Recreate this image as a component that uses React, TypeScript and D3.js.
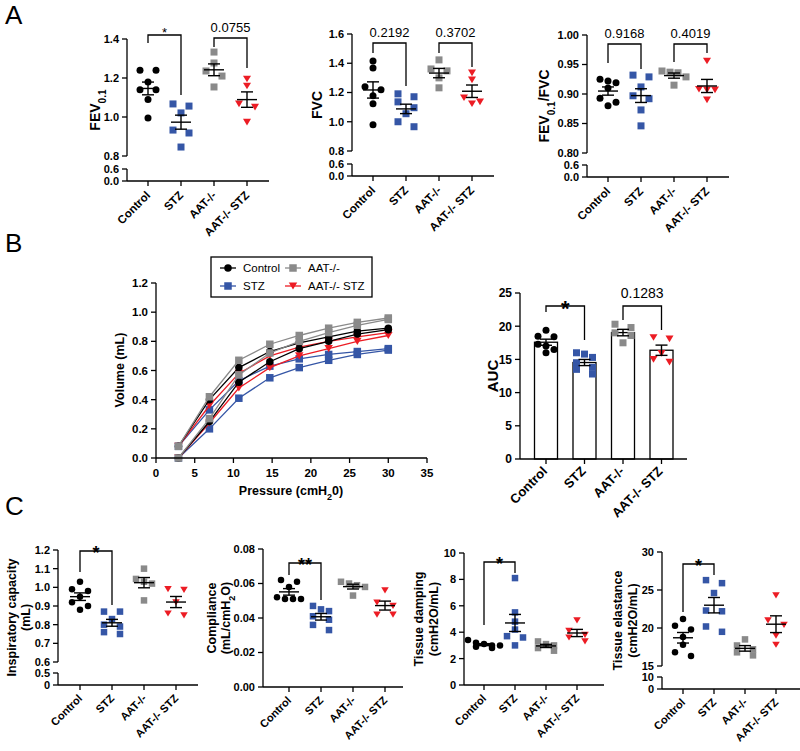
import React from "react";
import * as d3 from "d3";

const FONT = "Arial, 'Liberation Sans', Helvetica, sans-serif";

// ---------- categories & styles ----------
const groups = ["Control", "STZ", "AAT-/-", "AAT-/- STZ"];
const groupColors = ["#000000", "#3556a6", "#8a8a8a", "#ec1c24"];
const groupShapes = ["circle", "square", "square", "triangle"];

// ---------- Panel A ----------
const fevControl = [1.24, 1.24, 1.18, 1.14, 1.14, 1.09, 0.995];
const fevStz = [1.067, 1.056, 1.021, 0.933, 0.918, 0.846];
const fevAat = [1.333, 1.277, 1.236, 1.21, 1.154];
const fevAatStz = [1.195, 1.159, 1.067, 1.051, 0.974];

const fvcControl = [1.416, 1.368, 1.239, 1.218, 1.177, 1.123, 0.98];
const fvcStz = [1.191, 1.171, 1.136, 1.096, 1.055, 1.0, 0.966];
const fvcAat = [1.423, 1.361, 1.348, 1.3, 1.232];
const fvcAatStz = [1.334, 1.286, 1.164, 1.136, 1.123];

const ratioControl = [0.925, 0.922, 0.919, 0.91, 0.893, 0.886, 0.88];
const ratioStz = [0.932, 0.929, 0.912, 0.897, 0.892, 0.873, 0.846];
const ratioAat = [0.939, 0.937, 0.936, 0.929, 0.915];
const ratioAatStz = [0.956, 0.908, 0.907, 0.907, 0.89];

// ---------- Panel B ----------
const pressure = [2.9, 6.9, 10.7, 14.7, 18.5, 22.3, 26.0, 30.0];
const pvControlUp = [0.08, 0.4, 0.62, 0.73, 0.79, 0.83, 0.87, 0.89];
const pvControlLo = [0.0, 0.25, 0.52, 0.66, 0.75, 0.8, 0.85, 0.88];
const pvStzUp = [0.08, 0.33, 0.53, 0.63, 0.68, 0.71, 0.73, 0.75];
const pvStzLo = [0.0, 0.2, 0.41, 0.55, 0.62, 0.67, 0.71, 0.74];
const pvAatUp = [0.08, 0.42, 0.67, 0.78, 0.84, 0.89, 0.93, 0.96];
const pvAatLo = [0.0, 0.27, 0.57, 0.72, 0.8, 0.86, 0.91, 0.95];
const pvAatStzUp = [0.08, 0.36, 0.58, 0.7, 0.76, 0.8, 0.83, 0.86];
const pvAatStzLo = [0.0, 0.24, 0.48, 0.62, 0.7, 0.75, 0.8, 0.84];

const aucControl = [19.4, 18.5, 18.4, 17.3, 17.0, 16.5, 16.0];
const aucStz = [16.0, 15.8, 15.3, 14.5, 13.8, 13.5, 12.8];
const aucAat = [20.3, 19.8, 19.0, 18.6, 17.5];
const aucAatStz = [18.3, 18.1, 15.9, 15.0, 14.6];

// ---------- Panel C ----------
const icControl = [1.03, 0.99, 0.98, 0.95, 0.92, 0.9, 0.88];
const icStz = [0.87, 0.87, 0.83, 0.8, 0.79, 0.76, 0.75];
const icAat = [1.1, 1.045, 1.03, 1.02, 0.93];
const icAatStz = [0.99, 0.986, 0.92, 0.86, 0.85];

const crsControl = [0.062, 0.061, 0.058, 0.052, 0.051, 0.051, 0.051];
const crsStz = [0.047, 0.045, 0.044, 0.041, 0.039, 0.036, 0.033];
const crsAat = [0.061, 0.06, 0.059, 0.058, 0.053];
const crsAatStz = [0.056, 0.049, 0.047, 0.042, 0.042];

const gControl = [3.4, 3.2, 3.1, 3.0, 3.0, 2.9, 2.8];
const gStz = [8.1, 5.5, 4.8, 4.2, 3.7, 3.6, 3.0];
const gAat = [3.3, 3.1, 3.0, 2.8, 2.6];
const gAatStz = [4.9, 4.1, 3.8, 3.6, 3.3];

const hControl = [21.2, 20.3, 19.8, 18.8, 17.8, 16.8, 16.3];
const hStz = [26.3, 25.9, 24.6, 22.3, 22.2, 20.2, 19.5];
const hAat = [18.5, 17.7, 17.2, 16.8, 16.4];
const hAatStz = [24.3, 21.0, 20.4, 19.0, 17.8];

// ---------- tick labels ----------
const fevTicksUp = [0.8, 1.0, 1.2, 1.4];
const fvcTicksUp = [0.8, 1.0, 1.2, 1.4, 1.6];
const ratioTicksUp = [0.8, 0.85, 0.9, 0.95, 1.0];
const lowTicksA = [0, 0.6];
const pvXTicks = [0, 5, 10, 15, 20, 25, 30, 35];
const pvYTicks = [0, 0.2, 0.4, 0.6, 0.8, 1.0, 1.2];
const aucTicks = [0, 5, 10, 15, 20, 25];
const icTicksUp = [0.6, 0.7, 0.8, 0.9, 1.0, 1.1, 1.2];
const icTicksLo = [0, 0.5];
const crsTicks = [0, 0.02, 0.04, 0.06, 0.08];
const gTicks = [0, 2, 4, 6, 8, 10];
const hTicksUp = [15, 20, 25, 30];
const hTicksLo = [0, 10];

// ---------- helpers ----------
function Marker({ shape, x, y, size, color }: any) {
  if (shape === "circle") return <circle cx={x} cy={y} r={size / 2} fill={color} />;
  if (shape === "square")
    return <rect x={x - size / 2} y={y - size / 2} width={size} height={size} fill={color} />;
  const h = size * 0.95;
  return (
    <path
      d={`M${x - size / 2 - 0.5},${y - h / 2} L${x + size / 2 + 0.5},${y - h / 2} L${x},${y + h / 2} Z`}
      fill={color}
    />
  );
}

function swarm(vals: number[], yf: (v: number) => number, cx: number, slot: number, thr: number) {
  const idx = vals.map((_, i) => i).sort((a, b) => vals[b] - vals[a]);
  const out: { x: number; y: number }[] = new Array(vals.length);
  let i = 0;
  while (i < idx.length) {
    const row = [idx[i]];
    const y0 = yf(vals[idx[i]]);
    let j = i + 1;
    while (j < idx.length && yf(vals[idx[j]]) - y0 < thr) {
      row.push(idx[j]);
      j++;
    }
    const n = row.length;
    let offs: number[];
    if (n === 1) offs = [0];
    else if (n === 2) offs = [-1, 1];
    else if (n === 3) offs = [-1, 0, 1];
    else if (n === 4) offs = [-1.5, -0.5, 0.5, 1.5];
    else offs = d3.range(n).map((k) => k - (n - 1) / 2);
    row.forEach((r, k) => (out[r] = { x: cx + offs[k] * slot, y: yf(vals[r]) }));
    i = j;
  }
  return out;
}

type Seg = { domain: [number, number]; range: [number, number]; ticks: number[]; fmt: (v: number) => string };
type Br = { a: number; b: number; label: string; top: number; la: number; lb: number; size: number; bold?: boolean; dy: number };

function YAxisSeg({ x, seg, size }: { x: number; seg: Seg; size: number }) {
  const s = d3.scaleLinear().domain(seg.domain).range(seg.range);
  return (
    <g>
      <line x1={x} x2={x} y1={seg.range[0]} y2={seg.range[1]} stroke="#000" strokeWidth={1.3} />
      {seg.ticks.map((t) => (
        <g key={t}>
          <line x1={x - 5} x2={x} y1={s(t)} y2={s(t)} stroke="#000" strokeWidth={1.3} />
          <text x={x - 8} y={s(t)} dy="0.36em" textAnchor="end" fontSize={size} fontWeight="bold">
            {seg.fmt(t)}
          </text>
        </g>
      ))}
    </g>
  );
}

function ScatterChart(p: {
  axisX: number; first: number; step: number; axisLen: number;
  upper: Seg; lower?: Seg; data: number[][]; brackets: Br[];
  ylabel: React.ReactNode[]; ylabelX: number[]; ylabelSize: number;
  tickSize: number; catSize: number; catDx: number; catDy: number;
  bars?: boolean; barW?: number; mk: number; meanHalf: number; capHalf: number; slot: number;
}) {
  const up = d3.scaleLinear().domain(p.upper.domain).range(p.upper.range);
  const lo = p.lower ? d3.scaleLinear().domain(p.lower.domain).range(p.lower.range) : null;
  const y = (v: number) => (lo && v < p.upper.domain[0] ? lo(v) : up(v));
  const x = d3.scaleLinear().domain([0, 3]).range([p.axisX + p.first, p.axisX + p.first + 3 * p.step]);
  const base = p.lower ? p.lower.range[0] : p.upper.range[0];
  const midY = (p.upper.range[1] + base) / 2;
  return (
    <g>
      {/* bars */}
      {p.bars &&
        p.data.map((d, i) => {
          const m = d3.mean(d)!;
          return (
            <rect key={i} x={x(i) - p.barW! / 2} y={y(m)} width={p.barW} height={base - y(m)}
              fill="#fff" stroke="#000" strokeWidth={1.3} />
          );
        })}
      {/* points */}
      {p.data.map((d, i) =>
        swarm(d, y, x(i), p.slot, p.mk * 0.85).map((pt, k) => (
          <Marker key={i + "-" + k} shape={groupShapes[i]} x={pt.x} y={pt.y} size={p.mk} color={groupColors[i]} />
        ))
      )}
      {/* mean +- sem */}
      {p.data.map((d, i) => {
        const m = d3.mean(d)!;
        const se = d3.deviation(d)! / Math.sqrt(d.length);
        const cx = x(i);
        return (
          <g key={i} stroke="#000" strokeWidth={1.4}>
            {!p.bars && <line x1={cx - p.meanHalf} x2={cx + p.meanHalf} y1={y(m)} y2={y(m)} />}
            <line x1={cx} x2={cx} y1={y(m + se)} y2={y(m - se)} />
            <line x1={cx - p.capHalf} x2={cx + p.capHalf} y1={y(m + se)} y2={y(m + se)} />
            <line x1={cx - p.capHalf} x2={cx + p.capHalf} y1={y(m - se)} y2={y(m - se)} />
          </g>
        );
      })}
      {/* axes */}
      <YAxisSeg x={p.axisX} seg={p.upper} size={p.tickSize} />
      {p.lower && <YAxisSeg x={p.axisX} seg={p.lower} size={p.tickSize} />}
      <line x1={p.axisX} x2={p.axisX + p.axisLen} y1={base} y2={base} stroke="#000" strokeWidth={1.3} />
      {groups.map((g, i) => (
        <g key={g}>
          <line x1={x(i)} x2={x(i)} y1={base} y2={base + 5} stroke="#000" strokeWidth={1.3} />
          <text transform={`translate(${x(i) + p.catDx},${base + p.catDy}) rotate(-45)`} textAnchor="end"
            fontSize={p.catSize} fontWeight="bold">
            {g}
          </text>
        </g>
      ))}
      {/* y label */}
      {p.ylabel.map((l, k) => (
        <text key={k} transform={`translate(${p.ylabelX[k]},${midY}) rotate(-90)`} textAnchor="middle"
          fontSize={p.ylabelSize} fontWeight="bold">
          {l}
        </text>
      ))}
      {/* brackets */}
      {p.brackets.map((b, k) => (
        <g key={k}>
          <path d={`M${x(b.a)},${b.la} V${b.top} H${x(b.b)} V${b.lb}`} fill="none" stroke="#000" strokeWidth={1.3} />
          <text x={(x(b.a) + x(b.b)) / 2} y={b.top + b.dy} textAnchor="middle" fontSize={b.size}
            fontWeight={b.bold ? "bold" : "normal"}>
            {b.label}
          </text>
        </g>
      ))}
    </g>
  );
}

const f1 = d3.format(".1f");
const f2 = d3.format(".2f");
const f0 = d3.format("d");
const sub = (t: string) => <tspan baselineShift="sub" fontSize="72%">{t}</tspan>;

function PVChart() {
  const xs = d3.scaleLinear().domain([0, 35]).range([156, 427]);
  const ys = d3.scaleLinear().domain([0, 1.2]).range([458, 283]);
  const series = [
    { up: pvStzUp, lo: pvStzLo, g: 1 },
    { up: pvAatStzUp, lo: pvAatStzLo, g: 3 },
    { up: pvControlUp, lo: pvControlLo, g: 0 },
    { up: pvAatUp, lo: pvAatLo, g: 2 },
  ];
  const line = d3.line<number>().x((_, i) => xs(pressure[i])).y((v) => ys(v));
  return (
    <g>
      {series.map((s) =>
        [s.lo, s.up].map((arr, k) => (
          <g key={s.g + "-" + k}>
            <path d={line(arr)!} fill="none" stroke={groupColors[s.g]} strokeWidth={1.3} />
            {arr.map((v, i) => (
              <Marker key={i} shape={groupShapes[s.g]} x={xs(pressure[i])} y={ys(v)} size={7.5} color={groupColors[s.g]} />
            ))}
          </g>
        ))
      )}
      <line x1={156} x2={156} y1={ys(0)} y2={ys(1.2)} stroke="#000" strokeWidth={1.3} />
      {pvYTicks.map((t) => (
        <g key={t}>
          <line x1={151} x2={156} y1={ys(t)} y2={ys(t)} stroke="#000" strokeWidth={1.3} />
          <text x={148} y={ys(t)} dy="0.36em" textAnchor="end" fontSize={11.5} fontWeight="bold">{f1(t)}</text>
        </g>
      ))}
      <line x1={xs(0)} x2={xs(35)} y1={458} y2={458} stroke="#000" strokeWidth={1.3} />
      {pvXTicks.map((t) => (
        <g key={t}>
          <line x1={xs(t)} x2={xs(t)} y1={458} y2={463} stroke="#000" strokeWidth={1.3} />
          <text x={xs(t)} y={477} textAnchor="middle" fontSize={11.5} fontWeight="bold">{f0(t)}</text>
        </g>
      ))}
      <text x={291} y={495} textAnchor="middle" fontSize={12.5} fontWeight="bold">
        Pressure (cmH{sub("2")}0)
      </text>
      <text transform="translate(124,370) rotate(-90)" textAnchor="middle" fontSize={12.5} fontWeight="bold">
        Volume (mL)
      </text>
      {/* legend */}
      <rect x={211} y={257} width={161} height={40} fill="#fff" stroke="#000" strokeWidth={1.3} />
      {[0, 2, 1, 3].map((g, k) => {
        const col = k < 2 ? k : k - 2;
        const row = k < 2 ? 0 : 1;
        const lx = col === 0 ? 228 : 293;
        const ly = row === 0 ? 268 : 286;
        return (
          <g key={g}>
            <line x1={lx - 8} x2={lx + 8} y1={ly} y2={ly} stroke={groupColors[g]} strokeWidth={1.3} />
            <Marker shape={groupShapes[g]} x={lx} y={ly} size={7.5} color={groupColors[g]} />
            <text x={lx + 15} y={ly} dy="0.36em" fontSize={11.5}>{groups[g]}</text>
          </g>
        );
      })}
    </g>
  );
}

export default function App() {
  const Acommon = { first: 21, step: 33, axisLen: 142, tickSize: 11, catSize: 11.5, catDx: 3, catDy: 15, mk: 7, meanHalf: 10, capHalf: 6, slot: 8, ylabelSize: 14 };
  const Ccommon = { step: 32, axisLen: 140, tickSize: 11, catSize: 11, catDx: 3, catDy: 14, mk: 6.5, meanHalf: 10, capHalf: 6, slot: 8, ylabelSize: 12.5 };
  return (
    <svg width={800} height={751} style={{ display: "block", position: "absolute", left: 0, top: 0 }} fontFamily={FONT}>
      <rect width={800} height={751} fill="#fff" />
      <text x={5} y={24} fontSize={26}>A</text>
      <text x={5} y={252} fontSize={26}>B</text>
      <text x={5} y={515} fontSize={26}>C</text>

      <ScatterChart {...Acommon} axisX={127}
        upper={{ domain: [0.8, 1.4], range: [156, 39], ticks: fevTicksUp, fmt: f1 }}
        lower={{ domain: [0, 0.6], range: [181, 169], ticks: lowTicksA, fmt: f1 }}
        data={[fevControl, fevStz, fevAat, fevAatStz]}
        ylabel={[<>FEV{sub("0.1")}</>]} ylabelX={[100]}
        brackets={[
          { a: 0, b: 1, label: "*", top: 35, la: 43, lb: 95, size: 13, dy: 2 },
          { a: 2, b: 3, label: "0.0755", top: 38, la: 47, lb: 68, size: 13, dy: -6 },
        ]} />
      <ScatterChart {...Acommon} axisX={352}
        upper={{ domain: [0.8, 1.6], range: [151, 34], ticks: fvcTicksUp, fmt: f1 }}
        lower={{ domain: [0, 0.6], range: [176, 164], ticks: lowTicksA, fmt: f1 }}
        data={[fvcControl, fvcStz, fvcAat, fvcAatStz]}
        ylabel={["FVC"]} ylabelX={[322]}
        brackets={[
          { a: 0, b: 1, label: "0.2192", top: 43, la: 53, lb: 86, size: 13, dy: -6 },
          { a: 2, b: 3, label: "0.3702", top: 43, la: 53, lb: 67, size: 13, dy: -6 },
        ]} />
      <ScatterChart {...Acommon} axisX={587}
        upper={{ domain: [0.8, 1.0], range: [153, 35], ticks: ratioTicksUp, fmt: f2 }}
        lower={{ domain: [0, 0.6], range: [177, 165], ticks: lowTicksA, fmt: f1 }}
        data={[ratioControl, ratioStz, ratioAat, ratioAatStz]}
        ylabel={[<>FEV{sub("0.1")}/FVC</>]} ylabelX={[549]}
        brackets={[
          { a: 0, b: 1, label: "0.9168", top: 44, la: 63, lb: 69, size: 13, dy: -6 },
          { a: 2, b: 3, label: "0.4019", top: 44, la: 62, lb: 53, size: 13, dy: -6 },
        ]} />

      <PVChart />
      <ScatterChart {...Acommon} axisX={520} first={26} step={38.5} axisLen={167} bars barW={23}
        catSize={13} catDx={2} catDy={13} tickSize={12} ylabelSize={15}
        upper={{ domain: [0, 25], range: [459, 293], ticks: aucTicks, fmt: f0 }}
        data={[aucControl, aucStz, aucAat, aucAatStz]}
        ylabel={["AUC"]} ylabelX={[498]}
        brackets={[
          { a: 0, b: 1, label: "*", top: 306, la: 312, lb: 340, size: 22, bold: true, dy: 10 },
          { a: 2, b: 3, label: "0.1283", top: 306, la: 320, lb: 330, size: 14, dy: -8 },
        ]} />

      <ScatterChart {...Ccommon} axisX={58} first={22}
        upper={{ domain: [0.6, 1.2], range: [662, 550], ticks: icTicksUp, fmt: f1 }}
        lower={{ domain: [0, 0.5], range: [685, 673], ticks: icTicksLo, fmt: (v) => (v === 0 ? "0" : f1(v)) }}
        data={[icControl, icStz, icAat, icAatStz]}
        ylabel={["Inspiratory capacity", "(mL)"]} ylabelX={[16, 30]}
        brackets={[{ a: 0, b: 1, label: "*", top: 551, la: 572, lb: 605, size: 18, bold: true, dy: 8 }]} />
      <ScatterChart {...Ccommon} axisX={263} first={26}
        upper={{ domain: [0, 0.08], range: [687, 549], ticks: crsTicks, fmt: f2 }}
        data={[crsControl, crsStz, crsAat, crsAatStz]}
        ylabel={["Compliance", <>(mL/cmH{sub("2")}O)</>]} ylabelX={[216, 230]}
        brackets={[{ a: 0, b: 1, label: "**", top: 563, la: 575, lb: 600, size: 18, bold: true, dy: 8 }]} />
      <ScatterChart {...Ccommon} axisX={464} first={20} step={31}
        upper={{ domain: [0, 10], range: [685, 553], ticks: gTicks, fmt: f0 }}
        data={[gControl, gStz, gAat, gAatStz]}
        ylabel={["Tissue damping", "(cmH2O/mL)"]} ylabelX={[423, 438]}
        brackets={[{ a: 0, b: 1, label: "*", top: 562, la: 625, lb: 573, size: 18, bold: true, dy: 8 }]} />
      <ScatterChart {...Ccommon} axisX={662} first={21} step={31}
        upper={{ domain: [15, 30], range: [666, 552], ticks: hTicksUp, fmt: f0 }}
        lower={{ domain: [0, 10], range: [689, 677], ticks: hTicksLo, fmt: f0 }}
        data={[hControl, hStz, hAat, hAatStz]}
        ylabel={["Tissue elastance", "(cmH2O/mL)"]} ylabelX={[622, 637]}
        brackets={[{ a: 0, b: 1, label: "*", top: 564, la: 612, lb: 575, size: 18, bold: true, dy: 8 }]} />
    </svg>
  );
}
